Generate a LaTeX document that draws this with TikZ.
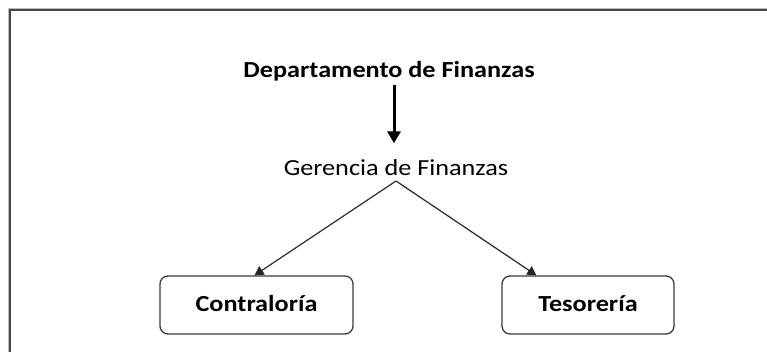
\documentclass[tikz,border=0pt]{standalone}
\usepackage{fontspec}
\setmainfont{Carlito}[FakeStretch=1.14]
\usetikzlibrary{arrows.meta}
\definecolor{framegray}{HTML}{454545}
\definecolor{boxgray}{HTML}{3A3A3A}
\begin{document}
\begin{tikzpicture}[x=1pt,y=-1pt,
  lbl/.style={font=\fontsize{23}{26}\selectfont, inner sep=0pt, anchor=base},
  unitbox/.style={draw=boxgray, line width=1.3pt, rounded corners=8pt,
    font=\fontsize{23}{26}\selectfont\bfseries, text height=15pt, text depth=2pt,
    inner sep=0pt},
  bigarrow/.style={line width=3pt, -{Triangle[width=13pt,length=12pt]}},
  thinarrow/.style={line width=1.2pt, draw=black!85, -{Triangle[width=10pt,length=9pt]}}
]
\useasboundingbox (0,0) rectangle (767,352);
% outer frame (continues past the right and bottom edges)
\draw[black!25, line width=1pt] (8.5,400) -- (8.5,8.5) -- (800,8.5);
\draw[framegray, line width=2pt] (10,400) -- (10,10) -- (800,10);

\node[lbl, font=\fontsize{23}{26}\selectfont\bfseries] (dep) at (389,77.7) {Departamento de Finanzas};
\node[lbl] (ger) at (396,175.5) {Gerencia de Finanzas};

\node[unitbox, minimum width=193pt, minimum height=58pt] (c) at (256.5,305) {Contraloría};
\node[unitbox, minimum width=172pt, minimum height=58pt] (t) at (588,305) {Tesorería};

\coordinate (apex) at (396,181);

\draw[bigarrow] ([xshift=5pt,yshift=-3pt]dep.south) -- ([xshift=-2pt,yshift=16pt]ger.north);
\draw[thinarrow] (apex) -- ([xshift=-2pt]c.north);
\draw[thinarrow] (apex) -- ([xshift=35pt]t.north west);
\end{tikzpicture}
\end{document}
